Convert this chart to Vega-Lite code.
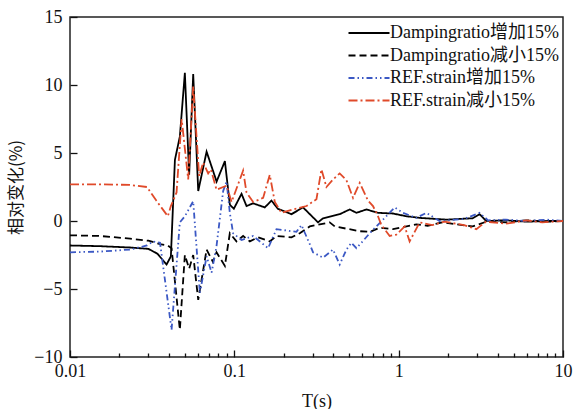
{
  "$schema": "https://vega.github.io/schema/vega-lite/v6.json",
  "width": 493,
  "height": 340,
  "autosize": {"type": "none"},
  "padding": {"left": 70, "top": 17, "right": 11, "bottom": 52},
  "background": "white",
  "config": {
    "view": {"stroke": "#222", "strokeWidth": 1.5},
    "font": "Times New Roman, Liberation Serif, DejaVu Serif, serif"
  },
  "datasets": {
    "A": [
      {"T": 0.01, "v": -1.8}, {"T": 0.0152, "v": -1.85}, {"T": 0.0232, "v": -1.95}, {"T": 0.03, "v": -2.05},
      {"T": 0.034, "v": -2.4}, {"T": 0.0387, "v": -3.2}, {"T": 0.0411, "v": -2.6}, {"T": 0.0435, "v": 4.5},
      {"T": 0.0466, "v": 6.2}, {"T": 0.05, "v": 10.9}, {"T": 0.0531, "v": 3.4}, {"T": 0.0562, "v": 10.8},
      {"T": 0.0603, "v": 2.2}, {"T": 0.0678, "v": 5.1}, {"T": 0.078, "v": 2.9}, {"T": 0.0876, "v": 4.4},
      {"T": 0.0939, "v": 1.2}, {"T": 0.0993, "v": 0.9}, {"T": 0.1106, "v": 2.0}, {"T": 0.1186, "v": 1.1},
      {"T": 0.1301, "v": 1.3}, {"T": 0.1532, "v": 1.0}, {"T": 0.1683, "v": 1.5}, {"T": 0.184, "v": 0.9},
      {"T": 0.2227, "v": 0.5}, {"T": 0.2619, "v": 1.0}, {"T": 0.3231, "v": -0.1}, {"T": 0.3465, "v": 0.2},
      {"T": 0.4377, "v": 0.5}, {"T": 0.5036, "v": 0.85}, {"T": 0.5532, "v": 0.6}, {"T": 0.6364, "v": 0.85},
      {"T": 0.7485, "v": 0.6}, {"T": 0.9233, "v": 0.55}, {"T": 1.114, "v": 0.35}, {"T": 1.342, "v": 0.23},
      {"T": 1.95, "v": 0.1}, {"T": 2.818, "v": 0.2}, {"T": 3.108, "v": 0.5}, {"T": 3.413, "v": 0.0},
      {"T": 4.5, "v": 0.05}, {"T": 6, "v": -0.05}, {"T": 8, "v": 0.0}, {"T": 10, "v": 0.0}
    ],
    "B": [
      {"T": 0.01, "v": -1.05}, {"T": 0.0152, "v": -1.1}, {"T": 0.0232, "v": -1.3}, {"T": 0.03, "v": -1.45},
      {"T": 0.0353, "v": -1.7}, {"T": 0.0394, "v": -1.8}, {"T": 0.0415, "v": -2.0}, {"T": 0.0466, "v": -8.0},
      {"T": 0.05, "v": -2.5}, {"T": 0.0531, "v": -3.5}, {"T": 0.0562, "v": -2.5}, {"T": 0.0603, "v": -5.8},
      {"T": 0.0678, "v": -2.1}, {"T": 0.074, "v": -3.0}, {"T": 0.0779, "v": -2.3}, {"T": 0.0876, "v": -3.3},
      {"T": 0.0939, "v": -0.9}, {"T": 0.1031, "v": -1.5}, {"T": 0.1131, "v": -1.1}, {"T": 0.1242, "v": -1.5},
      {"T": 0.139, "v": -1.2}, {"T": 0.1643, "v": -1.5}, {"T": 0.1805, "v": -1.1}, {"T": 0.2227, "v": -1.2},
      {"T": 0.2501, "v": -0.9}, {"T": 0.2877, "v": -0.4}, {"T": 0.3805, "v": -0.1}, {"T": 0.4082, "v": -0.4},
      {"T": 0.5794, "v": -0.75}, {"T": 0.6664, "v": -0.8}, {"T": 0.7665, "v": -0.5}, {"T": 0.9233, "v": -0.6},
      {"T": 1.062, "v": -0.45}, {"T": 1.281, "v": -0.25}, {"T": 1.5, "v": -0.35}, {"T": 1.859, "v": -0.1},
      {"T": 2.818, "v": -0.4}, {"T": 3.413, "v": -0.05}, {"T": 4.5, "v": -0.1}, {"T": 6, "v": 0.05},
      {"T": 8, "v": -0.05}, {"T": 10, "v": 0.0}
    ],
    "C": [
      {"T": 0.01, "v": -2.3}, {"T": 0.0152, "v": -2.25}, {"T": 0.0232, "v": -2.1}, {"T": 0.0294, "v": -1.8},
      {"T": 0.032, "v": -1.5}, {"T": 0.0353, "v": -1.6}, {"T": 0.0415, "v": -8.0}, {"T": 0.0466, "v": -0.1},
      {"T": 0.05, "v": 0.35}, {"T": 0.0562, "v": 1.45}, {"T": 0.0617, "v": -5.3}, {"T": 0.0678, "v": -2.6},
      {"T": 0.0727, "v": -3.8}, {"T": 0.0779, "v": -1.85}, {"T": 0.0855, "v": 2.2}, {"T": 0.0897, "v": 2.9},
      {"T": 0.0939, "v": 0.6}, {"T": 0.0983, "v": -0.9}, {"T": 0.1106, "v": -1.4}, {"T": 0.1301, "v": -1.1},
      {"T": 0.1605, "v": -2.0}, {"T": 0.1805, "v": -0.6}, {"T": 0.2388, "v": -0.8}, {"T": 0.2561, "v": -0.3},
      {"T": 0.2877, "v": -1.7}, {"T": 0.3013, "v": -2.3}, {"T": 0.3465, "v": -2.7}, {"T": 0.3986, "v": -2.1},
      {"T": 0.4377, "v": -3.2}, {"T": 0.4809, "v": -2.1}, {"T": 0.5158, "v": -1.6}, {"T": 0.5532, "v": -2.0},
      {"T": 0.5934, "v": -1.6}, {"T": 0.6664, "v": -0.9}, {"T": 0.8028, "v": 0.1}, {"T": 0.9456, "v": 1.0},
      {"T": 1.062, "v": 0.6}, {"T": 1.281, "v": 0.23}, {"T": 1.474, "v": 0.6}, {"T": 1.775, "v": 0.0},
      {"T": 2.5, "v": 0.15}, {"T": 3.108, "v": 0.6}, {"T": 3.5, "v": 0.05}, {"T": 4.5, "v": 0.1},
      {"T": 6, "v": 0.0}, {"T": 8, "v": 0.1}, {"T": 10, "v": 0.0}
    ],
    "D": [
      {"T": 0.01, "v": 2.7}, {"T": 0.015, "v": 2.7}, {"T": 0.0232, "v": 2.65}, {"T": 0.0294, "v": 2.5},
      {"T": 0.0335, "v": 1.5}, {"T": 0.0394, "v": 0.35}, {"T": 0.0411, "v": 1.1}, {"T": 0.0445, "v": 2.1},
      {"T": 0.0478, "v": 7.5}, {"T": 0.0524, "v": 3.05}, {"T": 0.0562, "v": 9.9}, {"T": 0.0611, "v": 3.3},
      {"T": 0.0646, "v": 4.3}, {"T": 0.0693, "v": 3.5}, {"T": 0.072, "v": 3.8}, {"T": 0.0779, "v": 2.3},
      {"T": 0.0897, "v": 2.6}, {"T": 0.0962, "v": 1.4}, {"T": 0.1131, "v": 3.7}, {"T": 0.1186, "v": 2.1},
      {"T": 0.1301, "v": 1.4}, {"T": 0.1497, "v": 1.7}, {"T": 0.1643, "v": 3.4}, {"T": 0.1763, "v": 1.4},
      {"T": 0.1936, "v": 0.6}, {"T": 0.2277, "v": 0.85}, {"T": 0.2748, "v": 1.1}, {"T": 0.316, "v": 1.6},
      {"T": 0.3389, "v": 3.8}, {"T": 0.3634, "v": 2.5}, {"T": 0.3986, "v": 3.05}, {"T": 0.4377, "v": 3.5},
      {"T": 0.4809, "v": 3.0}, {"T": 0.5275, "v": 1.7}, {"T": 0.5794, "v": 2.8}, {"T": 0.6508, "v": 1.5},
      {"T": 0.698, "v": 1.1}, {"T": 0.7485, "v": 0.35}, {"T": 0.785, "v": -0.3}, {"T": 0.8817, "v": -1.1},
      {"T": 0.9683, "v": -1.0}, {"T": 1.088, "v": -0.4}, {"T": 1.166, "v": -1.5}, {"T": 1.342, "v": -0.1},
      {"T": 1.6, "v": -0.3}, {"T": 1.9, "v": -0.05}, {"T": 2.5, "v": -0.3}, {"T": 2.967, "v": -0.6},
      {"T": 3.4, "v": -0.05}, {"T": 4.5, "v": -0.2}, {"T": 6, "v": 0.05}, {"T": 7.5, "v": -0.1}, {"T": 10, "v": 0.0}
    ]
  },
  "layer": [
    {"data": {"name": "A"}, "transform": [{"calculate": "'Dampingratio增加15%'", "as": "s"}], "mark": {"type": "line", "strokeWidth": 1.8, "clip": true}, "encoding": {}},
    {"data": {"name": "B"}, "transform": [{"calculate": "'Dampingratio减小15%'", "as": "s"}], "mark": {"type": "line", "strokeWidth": 1.8, "clip": true}, "encoding": {}},
    {"data": {"name": "C"}, "transform": [{"calculate": "'REF.strain增加15%'", "as": "s"}], "mark": {"type": "line", "strokeWidth": 1.8, "clip": true}, "encoding": {}},
    {"data": {"name": "D"}, "transform": [{"calculate": "'REF.strain减小15%'", "as": "s"}], "mark": {"type": "line", "strokeWidth": 1.8, "clip": true}, "encoding": {}}
  ],
  "encoding": {
    "x": {
      "field": "T", "type": "quantitative",
      "scale": {"type": "log", "domain": [0.01, 10]},
      "axis": {
        "zindex": 2,
        "values": [0.01, 0.02, 0.03, 0.04, 0.05, 0.06, 0.07, 0.08, 0.09, 0.1, 0.2, 0.3, 0.4, 0.5, 0.6, 0.7, 0.8, 0.9, 1, 2, 3, 4, 5, 6, 7, 8, 9, 10],
        "labelExpr": "(datum.value == 0.01 || datum.value == 0.1 || datum.value == 1 || datum.value == 10) ? format(datum.value, '~g') : ''",
        "ticks": false,
        "grid": true, "gridColor": "#111", "gridWidth": 1.3, "gridOpacity": 1,
        "gridDash": {"condition": {"test": "datum.value == 0.01 || datum.value == 0.1 || datum.value == 1 || datum.value == 10", "value": [0, 333, 7, 1000]}, "value": [0, 336, 4, 1000]},
        "domain": false,
        "labelFontSize": 18, "labelColor": "#111", "labelPadding": 5, "labelFlush": false,
        "title": "T(s)", "titleFontSize": 18, "titleFontWeight": "normal", "titleColor": "#111", "titlePadding": 12
      }
    },
    "y": {
      "field": "v", "type": "quantitative",
      "scale": {"domain": [-10, 15]},
      "axis": {
        "zindex": 2,
        "values": [-10, -5, 0, 5, 10, 15],
        "ticks": false,
        "grid": true, "gridColor": "#111", "gridWidth": 1.3, "gridOpacity": 1, "gridDash": [7, 1000],
        "domain": false,
        "labelFontSize": 18, "labelColor": "#111", "labelPadding": 8,
        "title": "相对变化(%)", "titleFont": "Noto Sans CJK SC", "titleFontSize": 17, "titleFontWeight": "normal", "titleColor": "#111", "titlePadding": 8
      }
    },
    "color": {
      "field": "s", "type": "nominal",
      "scale": {"domain": ["Dampingratio增加15%", "Dampingratio减小15%", "REF.strain增加15%", "REF.strain减小15%"], "range": ["#000000", "#000000", "#3b58c4", "#e04a2a"]},
      "legend": {
        "orient": "none", "legendX": 290, "legendY": 7, "title": null, "labelLimit": 400,
        "symbolType": "M-4.1,0H4.1", "symbolSize": 100, "symbolStrokeWidth": 1.8, "symbolFillColor": "transparent",
        "labelFont": "Times New Roman, Liberation Serif, Noto Sans CJK SC, serif", "labelFontSize": 18, "labelColor": "#111", "labelOffset": 12, "rowPadding": 4.5, "padding": 0
      }
    },
    "strokeDash": {
      "field": "s", "type": "nominal",
      "scale": {"domain": ["Dampingratio增加15%", "Dampingratio减小15%", "REF.strain增加15%", "REF.strain减小15%"], "range": [[1, 0], [7, 4], [6, 3, 1.5, 3, 1.5, 3], [9, 3, 2, 3]]},
      "legend": {
        "orient": "none", "legendX": 290, "legendY": 7, "title": null, "labelLimit": 400,
        "symbolType": "M-4.1,0H4.1", "symbolSize": 100, "symbolStrokeWidth": 1.8, "symbolFillColor": "transparent",
        "labelFont": "Times New Roman, Liberation Serif, Noto Sans CJK SC, serif", "labelFontSize": 18, "labelColor": "#111", "labelOffset": 12, "rowPadding": 4.5, "padding": 0
      }
    }
  }
}
